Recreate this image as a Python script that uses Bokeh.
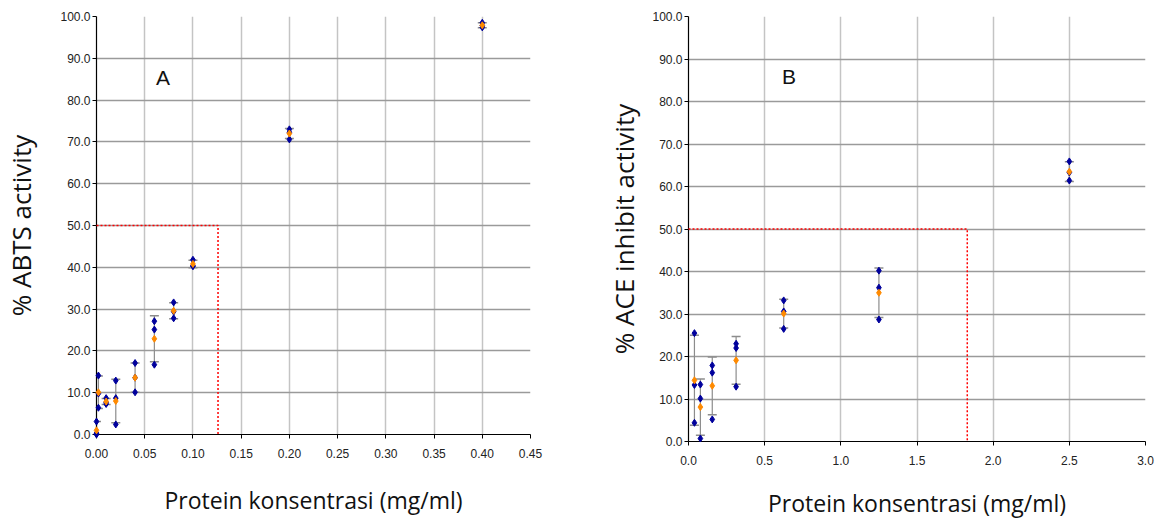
from bokeh.plotting import figure
from bokeh.layouts import row
from bokeh.models import (ColumnDataSource, Whisker, TeeHead, Range1d, FixedTicker,
                          NumeralTickFormatter, Label)
from bokeh.embed import file_html
from bokeh.resources import INLINE

# ---------------- Data: panel A (ABTS) ----------------
conc_A = [0.0, 0.002, 0.01, 0.02, 0.04, 0.06, 0.08, 0.10, 0.20, 0.40]
repA_1 = [3.1, 14.1, 8.7, 12.9, 17.1, 27.1, 31.6, 41.8, 73.0, 98.5]
repA_2 = [0.3, 9.8, 7.7, 8.7, 13.6, 25.1, 29.4, 40.3, 72.3, 97.8]
repA_3 = [0.0, 6.4, 7.3, 2.4, 10.1, 16.7, 27.8, 40.3, 70.6, 97.4]
meanA = [1.0, 10.1, 7.9, 8.0, 13.6, 22.9, 29.6, 40.8, 72.0, 97.9]
sdA = [2.1, 3.9, 0.7, 5.2, 3.5, 5.5, 1.9, 0.9, 1.2, 0.6]
ic50_A = 0.126

# ---------------- Data: panel B (ACE) ----------------
conc_B = [0.039, 0.078, 0.156, 0.3125, 0.625, 1.25, 2.5]
repB_1 = [25.5, 13.4, 17.9, 23.0, 33.2, 40.2, 65.9]
repB_2 = [13.3, 10.1, 16.2, 22.0, 30.6, 36.2, 63.3]
repB_3 = [4.4, 0.7, 5.2, 12.9, 26.5, 28.7, 61.4]
meanB = [14.4, 8.1, 13.1, 19.1, 30.1, 35.0, 63.5]
sdB = [10.6, 6.6, 6.8, 5.6, 3.4, 5.8, 2.3]
ic50_B = 1.83

xticks_A = [0.0, 0.05, 0.10, 0.15, 0.20, 0.25, 0.30, 0.35, 0.40, 0.45]
xticks_B = [0.0, 0.5, 1.0, 1.5, 2.0, 2.5, 3.0]
yticks = [0, 10, 20, 30, 40, 50, 60, 70, 80, 90, 100]

xlabel = "Protein konsentrasi (mg/ml)"
ylabel_A = "% ABTS activity"
ylabel_B = "% ACE inhibit activity"

BLUE = "#00009c"
ORANGE = "#ff8a00"
TICK_FONT = "Liberation Sans"
LABEL_FONT = "Open Sans"


def make_panel(conc, reps, mean, sd, ic50, xticks, xfmt, xmax, ylabel, letter,
               letter_xy, frame_w, frame_h, border_l, border_r, border_t, border_b,
               ylab_standoff, xlab_standoff):
    p = figure(output_backend="svg", toolbar_location=None,
               frame_width=frame_w, frame_height=frame_h,
               min_border_left=border_l, min_border_right=border_r,
               min_border_top=border_t, min_border_bottom=border_b,
               x_range=Range1d(0, xmax), y_range=Range1d(0, 100))
    p.outline_line_color = None
    p.background_fill_color = "white"
    p.border_fill_color = "white"

    # grids
    p.xgrid.ticker = FixedTicker(ticks=xticks)
    p.ygrid.ticker = FixedTicker(ticks=yticks)
    p.xgrid.grid_line_color = "#c4c4c4"
    p.xgrid.grid_line_width = 1.5
    p.ygrid.grid_line_color = "#9a9a9a"
    p.ygrid.grid_line_width = 1.3

    # axes
    for ax in (p.xaxis[0], p.yaxis[0]):
        ax.axis_line_color = "black"
        ax.axis_line_width = 1.2
        ax.major_tick_line_color = "black"
        ax.major_tick_out = 4
        ax.major_tick_in = 0
        ax.minor_tick_line_color = None
        ax.major_label_text_font = TICK_FONT
        ax.major_label_text_font_size = "12px"
        ax.major_label_text_color = "#222222"
        ax.axis_label_text_font = LABEL_FONT
        ax.axis_label_text_font_style = "normal"
        ax.axis_label_text_color = "#111111"
    p.xaxis.axis_label_text_font_size = "23px"
    p.yaxis.axis_label_text_font_size = "26px"
    p.xaxis.ticker = FixedTicker(ticks=xticks)
    p.yaxis.ticker = FixedTicker(ticks=yticks)
    p.xaxis.formatter = NumeralTickFormatter(format=xfmt)
    p.yaxis.formatter = NumeralTickFormatter(format="0.0")
    p.xaxis.major_label_standoff = 10
    p.yaxis.major_label_standoff = 2
    p.xaxis.axis_label = xlabel
    p.yaxis.axis_label = ylabel
    p.yaxis.axis_label_standoff = ylab_standoff
    p.xaxis.axis_label_standoff = xlab_standoff

    # IC50 guide line (drawn above the grid)
    p.line([0, ic50, ic50], [50, 50, 0], line_color="#ff0000", line_width=1.5,
           line_dash="2 2", level="overlay")

    upper = [m + s for m, s in zip(mean, sd)]
    lower = [m - s for m, s in zip(mean, sd)]
    src = ColumnDataSource(dict(x=conc, mean=mean, upper=upper, lower=lower))
    w = Whisker(base="x", upper="upper", lower="lower", source=src,
                line_color="#8c8c8c", line_width=1.2,
                upper_head=TeeHead(size=9, line_color="#8c8c8c", line_width=1.5),
                lower_head=TeeHead(size=9, line_color="#8c8c8c", line_width=1.5))
    p.add_layout(w)

    for r in reps:
        p.scatter(conc, r, marker="diamond", size=7, fill_color=BLUE,
                  line_color=BLUE, level="overlay")
    p.scatter("x", "mean", source=src, marker="diamond", size=7,
              fill_color=ORANGE, line_color=ORANGE, level="overlay")

    p.add_layout(Label(x=letter_xy[0], y=letter_xy[1], text=letter,
                       text_font="Liberation Sans", text_font_size="21px",
                       text_align="center", text_baseline="middle",
                       text_color="#111111"))
    return p


pA = make_panel(conc_A, [repA_1, repA_2, repA_3], meanA, sdA, ic50_A, xticks_A,
                "0.00", 0.45, ylabel_A, "A", (0.069, 85.5),
                434, 418, 89, 43, 14, 81, 18, 23)
pB = make_panel(conc_B, [repB_1, repB_2, repB_3], meanB, sdB, ic50_B, xticks_B,
                "0.0", 3.0, ylabel_B, "B", (0.66, 86.0),
                457, 425, 115, 10, 16, 70, 7, 19)

layout = row(pA, pB, spacing=0)
open("out.html", "w").write(file_html(layout, INLINE))
